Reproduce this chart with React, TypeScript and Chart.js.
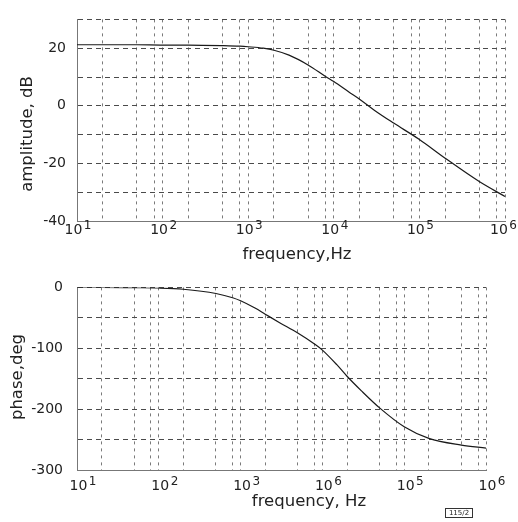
import { useEffect, useRef } from 'react';
import { Chart, registerables } from 'chart.js';

Chart.register(...registerables);

// ---- data ----
const frequencies = [10, 20, 50, 100, 200, 500, 800, 1000, 1500, 2000, 3000, 5000, 8000, 10000, 15000, 20000, 30000, 50000, 100000, 200000, 500000, 1000000];
const amplitudeDb = [21.2, 21.2, 21.2, 21.1, 21.1, 20.9, 20.7, 20.5, 20.0, 19.3, 17.6, 14.2, 10.2, 8.4, 4.8, 2.3, -1.6, -6.0, -11.7, -18.2, -26.3, -31.5];
const phaseDeg = [0, 0, -0.5, -1, -3, -10, -17, -22, -34, -44, -58, -75, -93, -103, -127, -146, -170, -198, -229, -248, -259, -264];

const decades = [10, 100, 1000, 10000, 100000, 1000000];
const gridMultipliers = [1, 2, 5, 8];
const amplitudeXExponents = ['1', '2', '3', '4', '5', '6'];
const phaseXExponents = ['1', '2', '3', '6', '5', '6'];
const amplitudeTickLabels = [20, 0, -20, -40];
const phaseTickLabels = [0, -100, -200, -300];

const FONT = '"DejaVu Sans", sans-serif';
const TEXT = '#222';

const xGridValues = decades.flatMap((d) => gridMultipliers.map((m) => d * m)).filter((v) => v <= 1000000);

type Cfg = {
  values: number[];
  yMin: number;
  yMax: number;
  yStep: number;
  yLabels: number[];
  exponents: string[];
  padding: { left: number; right: number; top: number; bottom: number };
  yWidth: number;
  xHeight: number;
  tickPadding: number;
  xTitle: string;
  yTitle: string;
  labelBaseline: number;
  labelShift: number;
  xTitlePos: { x: number; y: number };
  yTitlePos: { x: number; y: number };
  titleSize: number;
};

function buildChart(canvas: HTMLCanvasElement, cfg: Cfg) {
  const labelsPlugin = {
    id: 'bodeLabels',
    afterDraw(chart: any) {
      const ctx = chart.ctx as CanvasRenderingContext2D;
      const xs = chart.scales.x;
      ctx.save();
      ctx.fillStyle = TEXT;
      ctx.textBaseline = 'alphabetic';
      ctx.textAlign = 'left';
      decades.forEach((d, i) => {
        const px = xs.getPixelForValue(d) + cfg.labelShift;
        ctx.font = `14px ${FONT}`;
        const bw = ctx.measureText('10').width;
        ctx.font = `12px ${FONT}`;
        const ew = ctx.measureText(cfg.exponents[i]).width;
        const gap = 1.5;
        let start = px - (bw + gap + ew) / 2;
        const maxStart = chart.width - 1 - (bw + gap + ew);
        if (start > maxStart) start = maxStart;
        ctx.font = `14px ${FONT}`;
        ctx.fillText('10', start, cfg.labelBaseline);
        ctx.font = `12px ${FONT}`;
        ctx.fillText(cfg.exponents[i], start + bw + gap, cfg.labelBaseline - 5);
      });
      ctx.font = `${cfg.titleSize}px ${FONT}`;
      ctx.textAlign = 'center';
      ctx.fillText(cfg.xTitle, cfg.xTitlePos.x, cfg.xTitlePos.y);
      ctx.save();
      ctx.translate(cfg.yTitlePos.x, cfg.yTitlePos.y);
      ctx.rotate(-Math.PI / 2);
      ctx.textBaseline = 'middle';
      ctx.fillText(cfg.yTitle, 0, 0);
      ctx.restore();
      ctx.restore();
    },
  };

  return new Chart(canvas, {
    type: 'line',
    data: {
      datasets: [
        {
          data: frequencies.map((f, i) => ({ x: f, y: cfg.values[i] })),
          borderColor: '#1a1a1a',
          borderWidth: 1.2,
          pointRadius: 0,
          cubicInterpolationMode: 'monotone',
          fill: false,
        },
      ],
    },
    options: {
      animation: false,
      responsive: false,
      devicePixelRatio: 1,
      events: [],
      layout: { padding: cfg.padding },
      plugins: { legend: { display: false }, tooltip: { enabled: false }, title: { display: false } },
      scales: {
        x: {
          type: 'logarithmic',
          min: 10,
          max: 1000000,
          afterBuildTicks: (s: any) => {
            s.ticks = xGridValues.map((v) => ({ value: v }));
          },
          afterFit: (s: any) => {
            s.height = cfg.xHeight;
          },
          ticks: { display: false },
          grid: { color: '#7a7a7a', lineWidth: 1, drawTicks: false },
          border: { display: true, color: '#777', width: 1, dash: [3, 4] },
        },
        y: {
          type: 'linear',
          min: cfg.yMin,
          max: cfg.yMax,
          afterFit: (s: any) => {
            s.width = cfg.yWidth;
          },
          ticks: {
            stepSize: cfg.yStep,
            padding: cfg.tickPadding,
            color: TEXT,
            font: { family: FONT, size: 14 },
            callback: (v: any) => (cfg.yLabels.includes(Number(v)) ? String(v) : ''),
          },
          grid: { color: '#4a4a4a', lineWidth: 1, drawTicks: false },
          border: { display: true, color: '#777', width: 1, dash: [5, 4] },
        },
      },
    },
    plugins: [labelsPlugin],
  } as any);
}

export default function App() {
  const topRef = useRef<HTMLCanvasElement>(null);
  const botRef = useRef<HTMLCanvasElement>(null);

  useEffect(() => {
    const top = buildChart(topRef.current!, {
      values: amplitudeDb,
      yMin: -40,
      yMax: 30,
      yStep: 10,
      yLabels: amplitudeTickLabels,
      exponents: amplitudeXExponents,
      padding: { left: 0, right: 13, top: 10, bottom: 0 },
      yWidth: 77,
      xHeight: 44,
      tickPadding: 11,
      xTitle: 'frequency,Hz',
      yTitle: 'amplitude, dB',
      labelBaseline: 234,
      labelShift: 1,
      xTitlePos: { x: 297, y: 259 },
      yTitlePos: { x: 28, y: 134 },
      titleSize: 16.5,
    });
    const bot = buildChart(botRef.current!, {
      values: phaseDeg,
      yMin: -300,
      yMax: 0,
      yStep: 50,
      yLabels: phaseTickLabels,
      exponents: phaseXExponents,
      padding: { left: 0, right: 32, top: 14, bottom: 0 },
      yWidth: 77,
      xHeight: 52,
      tickPadding: 14,
      xTitle: 'frequency, Hz',
      yTitle: 'phase,deg',
      labelBaseline: 225,
      labelShift: 6,
      xTitlePos: { x: 309, y: 241 },
      yTitlePos: { x: 18, y: 112 },
      titleSize: 16.5,
    });
    return () => {
      top.destroy();
      bot.destroy();
    };
  }, []);

  return (
    <div style={{ position: 'fixed', left: 0, top: 0, width: 518, height: 522, background: '#fff', overflow: 'hidden' }}>
      <canvas ref={topRef} width={518} height={265} style={{ position: 'absolute', left: 0, top: 0, width: 518, height: 265 }} />
      <canvas ref={botRef} width={518} height={257} style={{ position: 'absolute', left: 0, top: 265, width: 518, height: 257 }} />
      <div
        style={{
          position: 'absolute',
          left: 445,
          top: 508,
          width: 26,
          height: 8,
          border: '1px solid #333',
          fontFamily: FONT,
          fontSize: 7,
          lineHeight: '8px',
          textAlign: 'center',
          color: TEXT,
        }}
      >
        115/2
      </div>
    </div>
  );
}
